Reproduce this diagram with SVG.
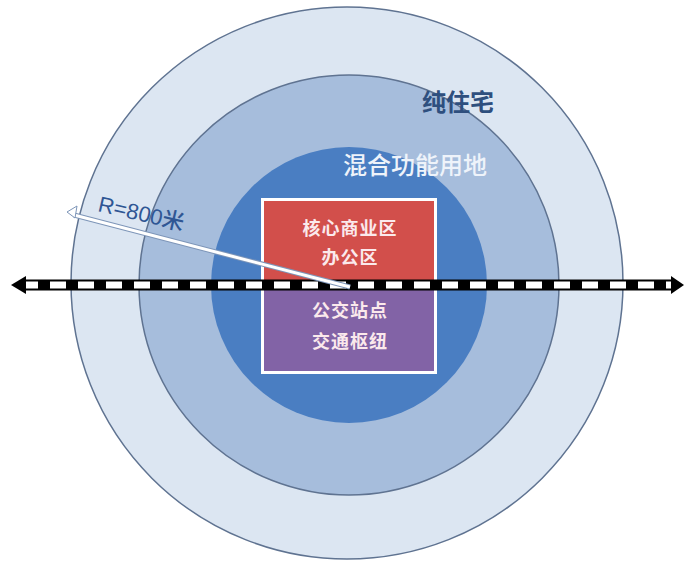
<svg xmlns="http://www.w3.org/2000/svg" width="684" height="562" viewBox="0 0 684 562">
<style>
.ring{stroke:#5f7391;stroke-width:1.5}
.lbl{font-family:"Noto Sans CJK SC","Noto Sans",sans-serif;text-anchor:middle}
.box{font-family:"Noto Sans CJK SC",sans-serif;font-size:18px;fill:#fbe9ec;text-anchor:middle;font-weight:bold;letter-spacing:1px}
</style>
<rect width="684" height="562" fill="#ffffff"/>
<g id="ring-outer"><circle class="ring" cx="347" cy="283" r="276" fill="#dce6f2"/></g>
<g id="ring-middle"><circle class="ring" cx="349" cy="285" r="210" fill="#a6bddc"/></g>
<g id="ring-inner"><circle cx="349" cy="285" r="138" fill="#4a7ec2"/></g>
<g id="ring-labels">
<text class="lbl" x="458" y="111" font-size="24" font-weight="bold" fill="#2e4f7e">纯住宅</text>
<text class="lbl" x="415" y="174" font-size="24" font-weight="500" fill="#eef3fa">混合功能用地</text>
</g>
<g id="core">
<rect x="261" y="198" width="176" height="176" fill="#ffffff"/>
<rect x="264" y="201" width="170" height="84" fill="#d24f4b"/>
<rect x="264" y="285" width="170" height="86" fill="#8263a6"/>
<text class="box" x="350" y="235">核心商业区</text>
<text class="box" x="350" y="264">办公区</text>
<text class="box" x="350" y="317">公交站点</text>
<text class="box" x="350" y="348">交通枢纽</text>
</g>
<g id="connectors">
<line x1="22" y1="285" x2="674" y2="285" stroke="#000" stroke-width="11"/>
<line x1="22" y1="285" x2="674" y2="285" stroke="#fff" stroke-width="7" stroke-dasharray="16 12"/>
<polygon points="11,285 26,276 26,294" fill="#000"/>
<polygon points="684,285 671,276 671,294" fill="#000"/>
<line x1="350" y1="287" x2="74" y2="215" stroke="#7d95b8" stroke-width="5"/>
<line x1="350" y1="287" x2="74" y2="215" stroke="#ffffff" stroke-width="3"/>
<polygon points="67,212 77,206 75,218" fill="#fff" stroke="#7d95b8" stroke-width="1"/>
<text x="97" y="211" transform="rotate(13 97 211)" font-family="Liberation Sans,Arial,sans-serif" font-size="22" font-weight="500" fill="#2f5694">R=800<tspan font-family="Noto Sans CJK SC,sans-serif">米</tspan></text>
</g>
</svg>
